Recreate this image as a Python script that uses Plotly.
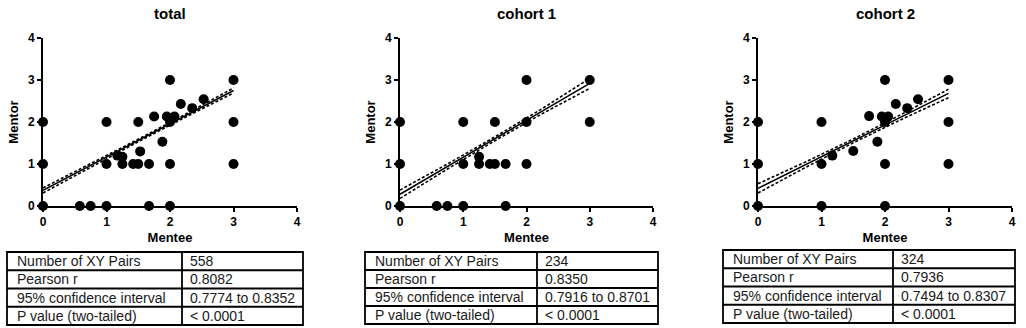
import plotly.graph_objects as go

W, H = 1026, 328

# ---------------- data ----------------
panel_titles = ["total", "cohort 1", "cohort 2"]
tick_vals = [0, 1, 2, 3, 4]
tick_text = ["0", "1", "2", "3", "4"]

total_x = [0, 0.58, 0.75, 1, 1.67, 2,
           0, 1, 1.25, 1.42, 1.5, 1.67, 2, 3,
           0, 1, 1.5, 2, 3,
           2, 3,
           1.17, 1.25, 1.53, 1.75, 1.88, 1.95, 2.07, 2.02, 2.17, 2.35, 2.53]
total_y = [0, 0, 0, 0, 0, 0,
           1, 1, 1, 1, 1, 1, 1, 1,
           2, 2, 2, 2, 2,
           3, 3,
           1.2, 1.17, 1.3, 2.13, 1.53, 2.13, 2.13, 2.07, 2.43, 2.33, 2.54]

c1_x = [0, 0.58, 0.75, 1, 1.67,
        0, 1, 1.25, 1.42, 1.5, 1.67, 2,
        0, 1, 1.5, 2, 3,
        2, 3,
        1.25]
c1_y = [0, 0, 0, 0, 0,
        1, 1, 1, 1, 1, 1, 1,
        2, 2, 2, 2, 2,
        3, 3,
        1.17]

c2_x = [0, 1, 2,
        0, 1, 2, 3,
        0, 1, 2, 3,
        2, 3,
        1.17, 1.5, 1.75, 1.88, 1.95, 2.05, 2.17, 2.35, 2.52]
c2_y = [0, 0, 0,
        1, 1, 1, 1,
        2, 2, 2, 2,
        3, 3,
        1.2, 1.31, 2.14, 1.53, 2.13, 2.13, 2.43, 2.33, 2.54]

fit_x = [0, 0.75, 1.5, 2.25, 3]
total_fit = [0.37, 0.965, 1.56, 2.155, 2.75]
total_hi = [0.43, 1.005, 1.59, 2.19, 2.81]
total_lo = [0.31, 0.925, 1.53, 2.12, 2.69]
c1_fit = [0.28, 0.94, 1.60, 2.26, 2.92]
c1_hi = [0.38, 1.00, 1.645, 2.32, 3.04]
c1_lo = [0.18, 0.88, 1.555, 2.20, 2.80]
c2_fit = [0.42, 0.985, 1.55, 2.115, 2.68]
c2_hi = [0.53, 1.05, 1.595, 2.175, 2.78]
c2_lo = [0.31, 0.92, 1.505, 2.055, 2.58]

row_labels = ["Number of XY Pairs", "Pearson r", "95% confidence interval", "P value (two-tailed)"]
total_stats = ["558", "0.8082", "0.7774 to 0.8352", "< 0.0001"]
c1_stats = ["234", "0.8350", "0.7916 to 0.8701", "< 0.0001"]
c2_stats = ["324", "0.7936", "0.7494 to 0.8307", "< 0.0001"]

# ---------------- layout geometry (pixels) ----------------
plot_px = [(43, 297), (400, 653), (758, 1012)]
plot_top, plot_bot = 38, 206
# left, divider, right, top, bottom
table_px = [(7, 182, 303, 252, 325),
            (365, 537, 658, 252, 324),
            (723, 893, 1015, 250, 323)]

FONT = "Liberation Sans, Arial, sans-serif"

panels = [
    (total_x, total_y, total_fit, total_hi, total_lo, total_stats),
    (c1_x, c1_y, c1_fit, c1_hi, c1_lo, c1_stats),
    (c2_x, c2_y, c2_fit, c2_hi, c2_lo, c2_stats),
]


def px_x(v):
    return v / W


def px_y(v):
    return 1 - v / H


fig = go.Figure()
layout = dict(
    width=W, height=H,
    margin=dict(l=0, r=0, t=0, b=0, autoexpand=False),
    paper_bgcolor="white", plot_bgcolor="white",
    showlegend=False,
    font=dict(family=FONT, color="black"),
    annotations=[],
    shapes=[],
)

for i, (px, py, fy, fhi, flo, stats) in enumerate(panels):
    n = "" if i == 0 else str(i + 1)
    xa, ya = "x" + n, "y" + n
    x0, x1 = plot_px[i]
    dom_x = [px_x(x0), px_x(x1)]
    dom_y = [px_y(plot_bot), px_y(plot_top)]

    for band in (fhi, flo):
        fig.add_trace(go.Scatter(x=fit_x, y=band, mode="lines", xaxis=xa, yaxis=ya,
                                 line=dict(color="black", width=1.6, dash="3px,2px"),
                                 hoverinfo="skip"))
    fig.add_trace(go.Scatter(x=fit_x, y=fy, mode="lines", xaxis=xa, yaxis=ya,
                             line=dict(color="black", width=1.5), hoverinfo="skip"))
    fig.add_trace(go.Scatter(x=px, y=py, mode="markers", xaxis=xa, yaxis=ya,
                             marker=dict(color="black", size=10), cliponaxis=False))

    axis_common = dict(range=[0, 4], tickvals=tick_vals, ticktext=tick_text,
                       showline=True, linecolor="black", linewidth=2,
                       ticks="outside", ticklen=4, tickwidth=2, tickcolor="black",
                       showgrid=False, zeroline=False, fixedrange=True, automargin=False,
                       tickfont=dict(family=FONT, size=12, weight="bold", color="black"))
    layout["xaxis" + n] = dict(domain=dom_x, anchor=ya, **axis_common,
                               title=dict(text="Mentee", standoff=4,
                                          font=dict(family=FONT, size=13, weight="bold")))
    layout["yaxis" + n] = dict(domain=dom_y, anchor=xa, **axis_common,
                               title=dict(text="Mentor", standoff=6,
                                          font=dict(family=FONT, size=13, weight="bold")))
    layout["annotations"].append(dict(
        text=panel_titles[i], x=(dom_x[0] + dom_x[1]) / 2, y=px_y(13),
        xref="paper", yref="paper", showarrow=False, xanchor="center", yanchor="middle",
        font=dict(family=FONT, size=15, weight="bold", color="black")))

    # statistics table
    tl, td, tr, tt, tb = table_px[i]
    nrows = len(row_labels)
    rh = (tb - tt) / nrows
    line = dict(color="black", width=1.8)
    layout["shapes"].append(dict(type="rect", xref="paper", yref="paper",
                                 x0=px_x(tl), x1=px_x(tr), y0=px_y(tb), y1=px_y(tt),
                                 line=line, fillcolor="rgba(0,0,0,0)"))
    layout["shapes"].append(dict(type="line", xref="paper", yref="paper",
                                 x0=px_x(td), x1=px_x(td), y0=px_y(tb), y1=px_y(tt), line=line))
    for r in range(1, nrows):
        yy = px_y(tt + r * rh)
        layout["shapes"].append(dict(type="line", xref="paper", yref="paper",
                                     x0=px_x(tl), x1=px_x(tr), y0=yy, y1=yy, line=line))
    for r in range(nrows):
        yc = px_y(tt + (r + 0.5) * rh)
        for xpos, txt in ((tl + 8, row_labels[r]), (td + 6, stats[r])):
            layout["annotations"].append(dict(
                text=txt, x=px_x(xpos), y=yc, xref="paper", yref="paper",
                showarrow=False, xanchor="left", yanchor="middle",
                font=dict(family=FONT, size=14, color="#1a1a1a")))

fig.update_layout(**layout)
fig.write_html("out.html", config={"displayModeBar": False},
               post_script="document.body.style.margin='0';document.body.style.overflow='hidden';")
